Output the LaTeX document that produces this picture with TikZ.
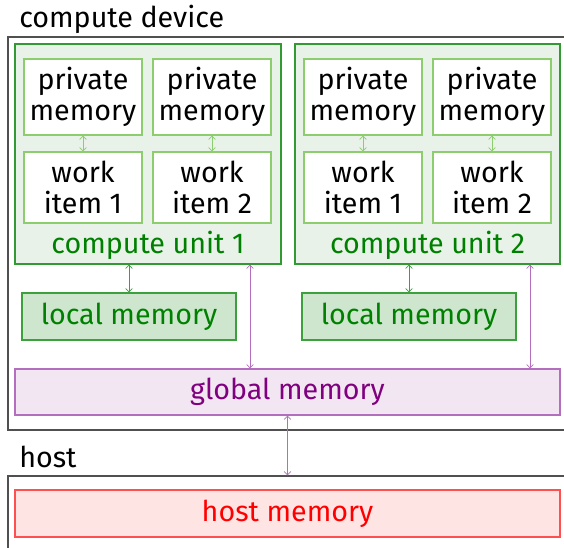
\documentclass[tikz,border=0pt]{standalone}
\usepackage{fontspec}
\setmainfont{Fira Sans}
\usetikzlibrary{arrows.meta}
\definecolor{cugreen}{RGB}{0,128,0}
\definecolor{cufill}{RGB}{232,242,232}
\definecolor{pmdraw}{RGB}{140,205,110}
\definecolor{lmfill}{RGB}{205,230,205}
\definecolor{lmdraw}{RGB}{60,160,60}
\definecolor{gmfill}{RGB}{242,230,242}
\definecolor{gmdraw}{RGB}{180,110,190}
\definecolor{gmtext}{RGB}{128,0,128}
\definecolor{hmfill}{RGB}{255,228,228}
\definecolor{hmdraw}{RGB}{255,80,80}
\definecolor{framecol}{RGB}{80,80,80}
\begin{document}
\begin{tikzpicture}[x=0.75pt,y=-0.75pt,
  txt/.style={font=\fontsize{21.5}{23.25}\selectfont, align=center, inner sep=0pt},
  frame/.style={draw=framecol, line width=0.9pt, fill=none, minimum width=592*0.75pt},
  cubox/.style={draw=cugreen!80, fill=cufill, line width=0.8pt, minimum width=266*0.75pt, minimum height=220*0.75pt, inner sep=0pt},
  pmbox/.style={txt, draw=pmdraw, fill=white, line width=0.8pt, minimum width=118*0.75pt},
  lmbox/.style={txt, text=cugreen, draw=lmdraw, fill=lmfill, line width=0.8pt, minimum width=214*0.75pt, minimum height=47*0.75pt},
  wide/.style={txt, line width=0.8pt, minimum width=545*0.75pt, minimum height=46*0.75pt},
  lbl/.style={txt, anchor=base west},
  arr/.style={{Straight Barb[length=2.5pt,width=5pt]}-{Straight Barb[length=2.5pt,width=5pt]}, line width=0.6pt},
]
\useasboundingbox (0,0) rectangle (564,548);
\begin{scope}
\clip (0,0) rectangle (564,548);
% compute device
\node[lbl] (cdlabel) at (19,28) {compute device};
\node[frame, minimum height=393*0.75pt] (cd) at (304,233.5) {};
% compute unit 1
\node[cubox] (cu1) at (148,154) {};
\node[txt, text=cugreen] (cu1label) at (148,245) {compute unit 1};
\node[pmbox, minimum height=76*0.75pt] (pm11) at (83,97) {private\\memory};
\node[pmbox, minimum height=76*0.75pt] (pm12) at (212,97) {private\\memory};
\node[pmbox, minimum height=71*0.75pt] (wi11) at (83,187.5) {work\\item 1};
\node[pmbox, minimum height=71*0.75pt] (wi12) at (212,187.5) {work\\item 2};
% compute unit 2
\node[cubox, minimum width=265*0.75pt] (cu2) at (427.5,154) {};
\node[txt, text=cugreen] (cu2label) at (427.5,245) {compute unit 2};
\node[pmbox, minimum height=76*0.75pt] (pm21) at (363,97) {private\\memory};
\node[pmbox, minimum height=76*0.75pt] (pm22) at (492,97) {private\\memory};
\node[pmbox, minimum height=71*0.75pt] (wi21) at (363,187.5) {work\\item 1};
\node[pmbox, minimum height=71*0.75pt] (wi22) at (492,187.5) {work\\item 2};
% local memories
\node[lmbox] (lm1) at (129,316.5) {local memory};
\node[lmbox] (lm2) at (409,316.5) {local memory};
% global memory
\node[wide, draw=gmdraw, fill=gmfill, text=gmtext] (gm) at (287.5,392) {global memory};
% host
\node[lbl] (hostlabel) at (19,468) {host};
\node[frame, minimum height=84*0.75pt] (host) at (304,518) {};
\node[wide, draw=hmdraw, fill=hmfill, text=red, minimum height=47*0.75pt] (hm) at (287.5,513.5) {host memory};
% connectors
\draw[arr, pmdraw] (pm11.south) -- (wi11.north);
\draw[arr, pmdraw] (pm12.south) -- (wi12.north);
\draw[arr, pmdraw] (pm21.south) -- (wi21.north);
\draw[arr, pmdraw] (pm22.south) -- (wi22.north);
\draw[arr, lmdraw] (cu1.south -| lm1.north) -- (lm1.north);
\draw[arr, lmdraw] (cu2.south -| lm2.north) -- (lm2.north);
\coordinate (g1) at (250,0);
\coordinate (g2) at (530,0);
\draw[arr, gmdraw] (cu1.south -| g1) -- (gm.north -| g1);
\draw[arr, gmdraw] (cu2.south -| g2) -- (gm.north -| g2);
\draw[arr, gmdraw] (gm.south) -- (host.north -| gm.south);
\end{scope}
\end{tikzpicture}
\end{document}
